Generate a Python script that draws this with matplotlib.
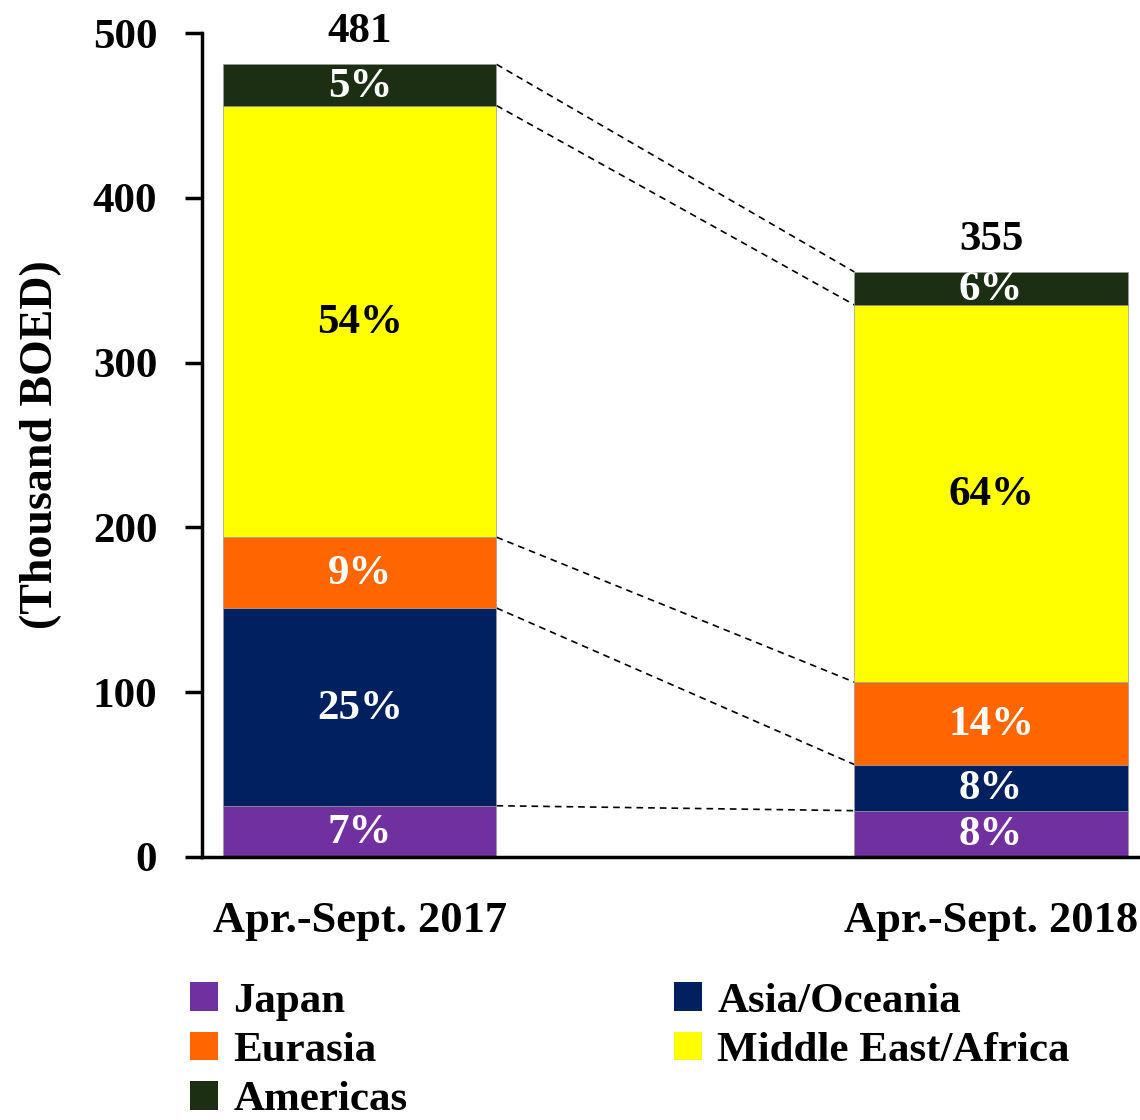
import matplotlib
matplotlib.use('Agg')
import matplotlib.pyplot as plt
from matplotlib.patches import Patch

plt.rcParams['font.family'] = ['Liberation Serif', 'DejaVu Serif']
plt.rcParams['font.weight'] = 'bold'

periods = ['Apr.-Sept. 2017', 'Apr.-Sept. 2018']
regions = ['Japan', 'Asia/Oceania', 'Eurasia', 'Middle East/Africa', 'Americas']
colors = ['#7030A0', '#002060', '#FF6600', '#FFFF00', '#1C2F13']
values_2017 = [31, 120, 43, 262, 25]
values_2018 = [28, 28, 50, 229, 20]
pct_2017 = ['7%', '25%', '9%', '54%', '5%']
pct_2018 = ['8%', '8%', '14%', '64%', '6%']
totals = [481, 355]

fig = plt.figure(figsize=(11.4, 11.2), dpi=100)
ax = fig.add_axes([0.177, 0.235, 0.823, 0.7355])

w = 0.433
fs = 31
series = [values_2017, values_2018]
pcts = [pct_2017, pct_2018]
tops = []
for i, vals in enumerate(series):
    bottom = 0
    t = []
    for j, v in enumerate(vals):
        ax.bar(i, v, width=w, bottom=bottom, color=colors[j],
               edgecolor='#999999', linewidth=0.5, zorder=2)
        tc = 'black' if colors[j] == '#FFFF00' else 'white'
        ax.text(i, bottom + v / 2 - 1, pcts[i][j], ha='center', va='center',
                fontsize=fs, color=tc, fontweight='bold', zorder=3)
        bottom += v
        t.append(bottom)
    tops.append(t)
    ax.text(i, bottom + 8, str(totals[i]), ha='center', va='bottom',
            fontsize=fs, fontweight='bold')

for a, b in zip(tops[0], tops[1]):
    ax.plot([w / 2, 1 - w / 2], [a, b], color='black', lw=1.2,
            ls=(0, (4, 3)), zorder=1)

ax.set_xlim(-0.2504, 1.236)
ax.set_ylim(0, 500)
ax.set_yticks([0, 100, 200, 300, 400, 500])
ax.tick_params(axis='y', labelsize=fs, length=12, width=2.5, pad=20)
ax.set_xticks([0, 1])
ax.set_xticklabels(periods, fontsize=32)
ax.tick_params(axis='x', length=0, pad=32)
for lbl in ax.get_xticklabels() + ax.get_yticklabels():
    lbl.set_fontweight('bold')
ax.spines['top'].set_visible(False)
ax.spines['right'].set_visible(False)
ax.spines['left'].set_linewidth(2.5)
ax.spines['bottom'].set_linewidth(2.5)
ax.set_ylabel('(Thousand BOED)', fontsize=33, fontweight='bold', labelpad=22)

order = [0, 2, 4, 1, 3]
handles = [Patch(facecolor=colors[k], label=regions[k]) for k in order]
leg = fig.legend(handles=handles, ncol=2, loc='upper left',
                 bbox_to_anchor=(0.148, 0.142), frameon=False,
                 prop={'size': fs, 'weight': 'bold'}, borderpad=0,
                 handlelength=0.65, handleheight=0.65, handletextpad=0.35,
                 columnspacing=6.2, labelspacing=0.25)

fig.savefig('out.png', dpi=100)
